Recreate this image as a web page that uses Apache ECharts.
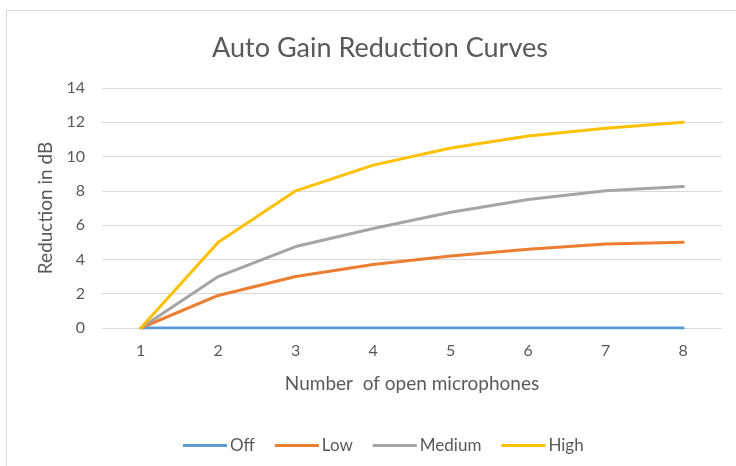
<!DOCTYPE html>
<html>
<head>
<meta charset="utf-8">
<script src="https://cdn.jsdelivr.net/npm/echarts@6/dist/echarts.min.js"></script>
<style>
  html, body { margin: 0; padding: 0; background: #fff; }
  #chart { width: 736px; height: 466px; }
</style>
</head>
<body>
<div id="chart"></div>
<script>
var categories = ['1', '2', '3', '4', '5', '6', '7', '8']
var offData = [0, 0, 0, 0, 0, 0, 0, 0]
var lowData = [0, 1.9, 3, 3.7, 4.2, 4.6, 4.9, 5]
var mediumData = [0, 3, 4.75, 5.8, 6.75, 7.5, 8, 8.25]
var highData = [0, 5, 8, 9.5, 10.5, 11.2, 11.65, 12]
var yTicks = [0, 2, 4, 6, 8, 10, 12, 14]

var colors = ['#5B9BD5', '#ED7D31', '#A5A5A5', '#FFC000']
var font = 'Lato, "Open Sans", sans-serif'
var textColor = '#595959'

function line (name, data, color) {
  return {
    name: name,
    type: 'line',
    data: data,
    symbol: 'none',
    smooth: false,
    lineStyle: { color: color, width: 3, cap: 'round' },
    itemStyle: { color: color }
  }
}

var chart = echarts.init(document.getElementById('chart'))
chart.setOption({
  animation: false,
  textStyle: { fontFamily: font },
  title: {
    text: 'Auto Gain Reduction Curves',
    left: 375,
    top: 30,
    textAlign: 'center',
    textStyle: { fontFamily: font, fontSize: 27, fontWeight: 'normal', color: textColor }
  },
  graphic: [{
    type: 'rect',
    shape: { x: 6.5, y: 10.5, width: 760, height: 480 },
    style: { fill: 'none', stroke: '#d9d9d9', lineWidth: 1 },
    silent: true,
    z: -10
  }],
  legend: {
    data: ['Off', 'Low', 'Medium', 'High'],
    left: 178,
    top: 432,
    itemWidth: 44,
    itemHeight: 3,
    itemGap: 20,
    icon: 'rect',
    textStyle: { fontFamily: font, fontSize: 17, color: textColor, padding: [0, 0, 0, -2] }
  },
  grid: { left: 102, right: 14, top: 88, bottom: 138 },
  xAxis: {
    type: 'category',
    data: categories,
    boundaryGap: true,
    name: 'Number  of open microphones',
    nameLocation: 'middle',
    nameGap: 46,
    nameTextStyle: { fontFamily: font, fontSize: 19, color: textColor },
    axisLine: { lineStyle: { color: '#d9d9d9', width: 1 } },
    axisTick: { show: false },
    axisLabel: { fontFamily: font, fontSize: 16, color: textColor, margin: 15 }
  },
  yAxis: {
    type: 'value',
    min: yTicks[0],
    max: yTicks[yTicks.length - 1],
    interval: 2,
    name: 'Reduction in dB',
    nameLocation: 'middle',
    nameGap: 44,
    nameTextStyle: { fontFamily: font, fontSize: 19, color: textColor },
    axisLine: { show: false },
    axisTick: { show: false },
    axisLabel: { fontFamily: font, fontSize: 16, color: textColor, margin: 17 },
    splitLine: { lineStyle: { color: '#d9d9d9', width: 1 } }
  },
  series: [
    line('Off', offData, colors[0]),
    line('Low', lowData, colors[1]),
    line('Medium', mediumData, colors[2]),
    line('High', highData, colors[3])
  ]
})
</script>
</body>
</html>
